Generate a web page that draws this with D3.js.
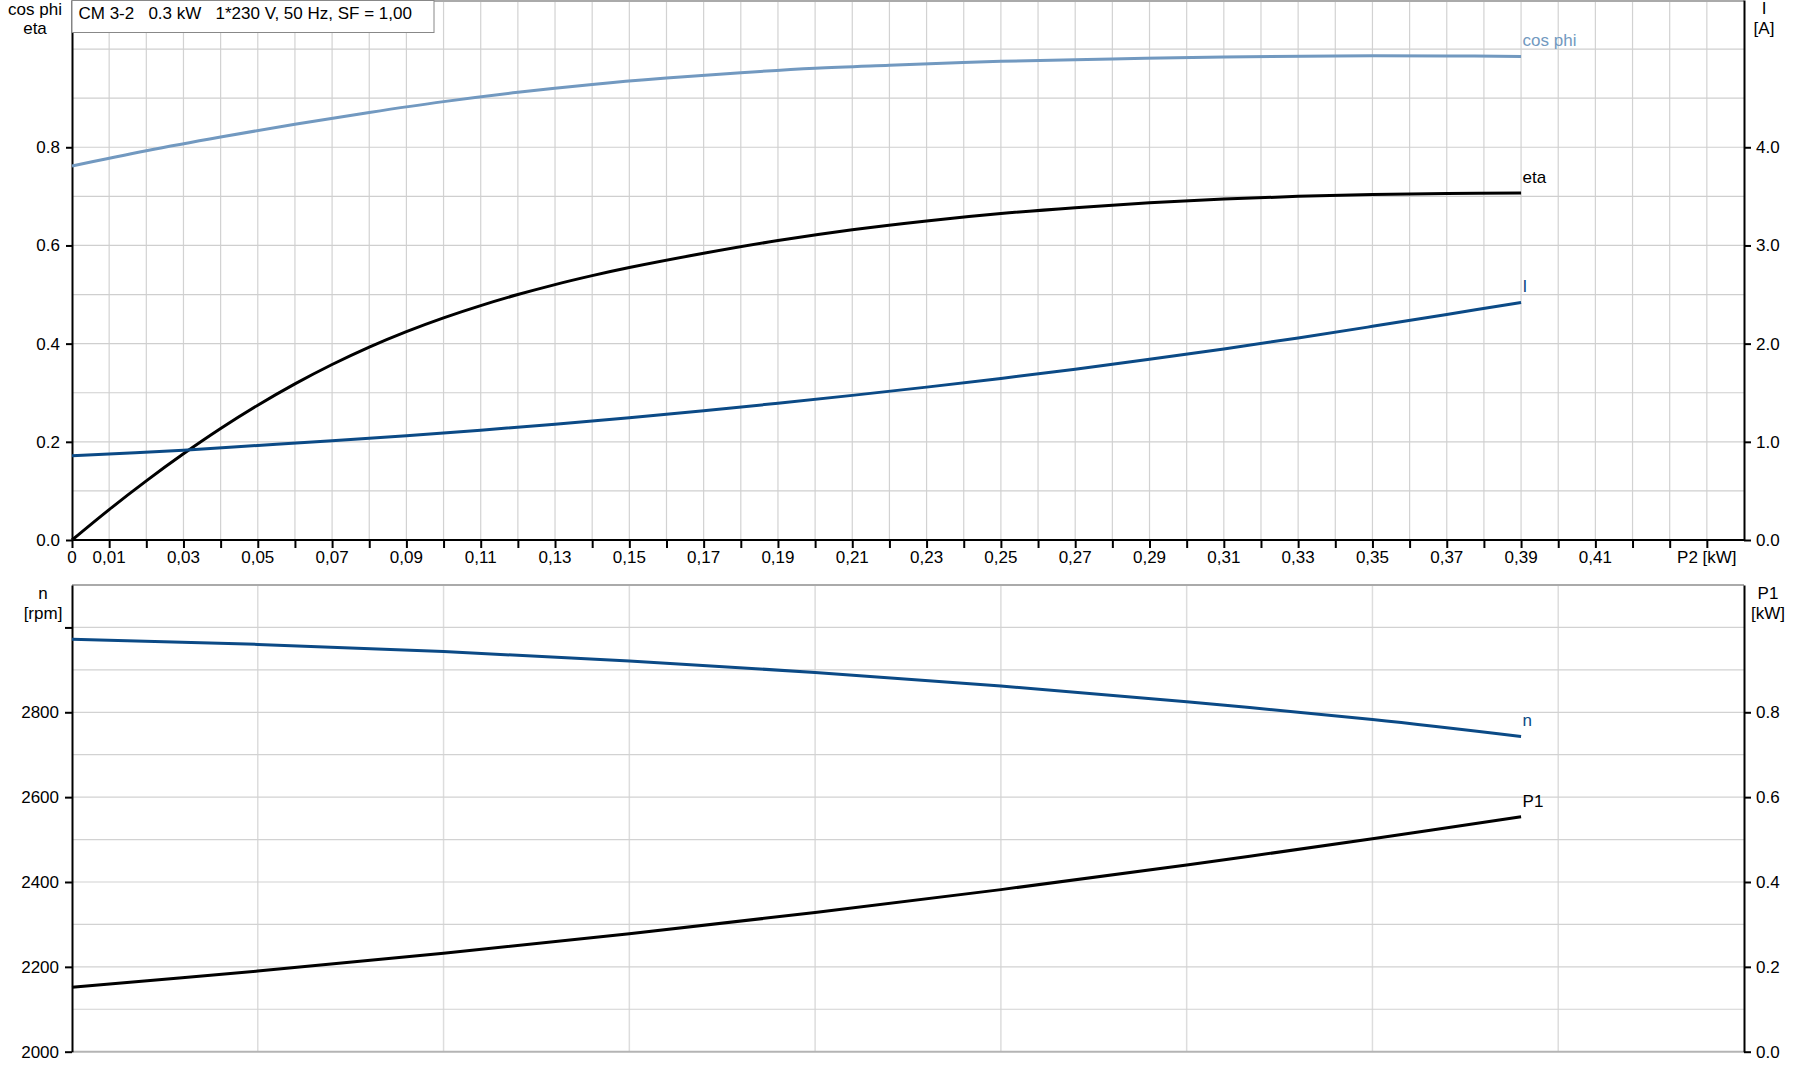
<!DOCTYPE html>
<html>
<head>
<meta charset="utf-8">
<script src="https://cdn.jsdelivr.net/npm/d3@7"></script>
<style>
  html, body { margin: 0; padding: 0; background: #fff; }
  svg { display: block; font-family: "Liberation Sans", Arial, sans-serif; }
</style>
</head>
<body>
<svg id="chart" width="1795" height="1081"></svg>
<script>
// ---------- DATA ----------
const titleText = "CM 3-2   0.3 kW   1*230 V, 50 Hz, SF = 1,00";

// P2 [kW] positions of the sampled points
const cosPhiP2 = [0, 0.02, 0.04, 0.06, 0.08, 0.10, 0.12, 0.14, 0.16, 0.18, 0.20, 0.22, 0.25, 0.28, 0.31, 0.34, 0.37, 0.39];
const cosPhiVals = [0.762, 0.793, 0.821, 0.847, 0.871, 0.893, 0.912, 0.928, 0.941, 0.952, 0.961, 0.967, 0.975, 0.980, 0.984, 0.986, 0.986, 0.985];

const etaP2 = [0, 0.01, 0.02, 0.03, 0.04, 0.05, 0.06, 0.07, 0.08, 0.09, 0.10, 0.11, 0.12, 0.13, 0.14, 0.15, 0.17, 0.19, 0.21, 0.23, 0.25, 0.27, 0.29, 0.31, 0.33, 0.35, 0.37, 0.39];
const etaVals = [0, 0.062, 0.1205, 0.1755, 0.227, 0.2745, 0.318, 0.3575, 0.393, 0.4245, 0.4525, 0.4775, 0.500, 0.5203, 0.5385, 0.555, 0.584, 0.610, 0.632, 0.650, 0.665, 0.677, 0.687, 0.6945, 0.700, 0.704, 0.706, 0.707];

const currentP2 = [0, 0.03, 0.05, 0.07, 0.09, 0.11, 0.13, 0.15, 0.17, 0.19, 0.21, 0.23, 0.25, 0.27, 0.29, 0.31, 0.33, 0.35, 0.37, 0.39];
const currentVals = [0.857, 0.915, 0.963, 1.011, 1.063, 1.119, 1.180, 1.246, 1.317, 1.393, 1.473, 1.557, 1.646, 1.740, 1.840, 1.946, 2.058, 2.176, 2.297, 2.420];

const speedP2 = [0, 0.05, 0.10, 0.15, 0.20, 0.25, 0.30, 0.35, 0.39];
const speedVals = [2972, 2960, 2943, 2921, 2894, 2862, 2825, 2783, 2743];

const p1P2 = [0, 0.05, 0.10, 0.15, 0.20, 0.25, 0.30, 0.35, 0.39];
const p1Vals = [0.152, 0.190, 0.232, 0.278, 0.328, 0.382, 0.440, 0.502, 0.554];

const xTickLabels = ["0", "0,01", "0,03", "0,05", "0,07", "0,09", "0,11", "0,13", "0,15", "0,17", "0,19", "0,21", "0,23", "0,25", "0,27", "0,29", "0,31", "0,33", "0,35", "0,37", "0,39", "0,41"];
const leftTopTicks = [0, 0.2, 0.4, 0.6, 0.8];
const rightTopTicks = [0, 1, 2, 3, 4];
const leftBottomTicks = [2000, 2200, 2400, 2600, 2800, 3000];
const leftBottomLabels = ["2000", "2200", "2400", "2600", "2800", ""];
const rightBottomTicks = [0, 0.2, 0.4, 0.6, 0.8];

// ---------- LAYOUT ----------
const svg = d3.select("#chart");
const L = 72, R = 1744;
const topY0 = 0, topY1 = 540;
const botY0 = 585, botY1 = 1051.7;
const FONT = 17;

const x = d3.scaleLinear().domain([0, 0.45]).range([L, R]);
const yTop = d3.scaleLinear().domain([0, 1.1]).range([topY1, topY0]);
const yI = d3.scaleLinear().domain([0, 5.5]).range([topY1, topY0]);
const yN = d3.scaleLinear().domain([2000, 3100]).range([botY1, botY0]);
const yP1 = d3.scaleLinear().domain([0, 1.1]).range([botY1, botY0]);

const blue = "#0b4a86";
const lightBlue = "#7299c0";

// ---------- TOP CHART GRID ----------
const gTop = svg.append("g");
gTop.selectAll(".vg").data(d3.range(1, 45).map(i => i / 100)).join("line")
  .attr("x1", d => x(d)).attr("x2", d => x(d))
  .attr("y1", topY0).attr("y2", topY1)
  .attr("stroke", "#d2d2d2").attr("stroke-width", 1.2);
gTop.selectAll(".hg").data(d3.range(1, 11).map(i => i / 10)).join("line")
  .attr("x1", L).attr("x2", R)
  .attr("y1", d => yTop(d)).attr("y2", d => yTop(d))
  .attr("stroke", "#cfcfcf").attr("stroke-width", 1.2);
gTop.append("line").attr("x1", L).attr("x2", R).attr("y1", 1).attr("y2", 1)
  .attr("stroke", "#aaaaaa").attr("stroke-width", 2);

// ---------- BOTTOM CHART GRID ----------
const gBot = svg.append("g");
gBot.selectAll(".vg").data(d3.range(1, 9).map(i => i * 0.05)).join("line")
  .attr("x1", d => x(d)).attr("x2", d => x(d))
  .attr("y1", botY0).attr("y2", botY1)
  .attr("stroke", "#dddddd").attr("stroke-width", 1.5);
gBot.selectAll(".hg").data(d3.range(2100, 3100, 100)).join("line")
  .attr("x1", L).attr("x2", R)
  .attr("y1", d => yN(d)).attr("y2", d => yN(d))
  .attr("stroke", "#d2d2d2").attr("stroke-width", 1.2);
gBot.append("line").attr("x1", L).attr("x2", R).attr("y1", botY0).attr("y2", botY0)
  .attr("stroke", "#aaaaaa").attr("stroke-width", 2);
gBot.append("line").attr("x1", L).attr("x2", R).attr("y1", botY1).attr("y2", botY1)
  .attr("stroke", "#b4b4b4").attr("stroke-width", 2);

// ---------- AXES ----------
function styleAxis(g) {
  g.selectAll("path.domain").attr("stroke", "#000").attr("stroke-width", 2);
  g.selectAll(".tick line").attr("stroke", "#000").attr("stroke-width", 2);
  g.selectAll(".tick text").attr("fill", "#000").style("font-size", FONT + "px")
    .style("font-family", '"Liberation Sans", Arial, sans-serif');
}

const xAxisG = svg.append("g").attr("transform", `translate(0,${topY1})`)
  .call(d3.axisBottom(x).tickValues(d3.range(0, 45).map(i => i / 100)).tickSize(8).tickSizeOuter(0)
    .tickFormat(() => ""));
styleAxis(xAxisG);
xAxisG.select("path.domain").attr("d", `M${L},0H${R}`);
const labelVals = xTickLabels.map((t, i) => i === 0 ? 0 : (2 * i - 1) / 100);
svg.append("g").selectAll("text").data(xTickLabels).join("text")
  .attr("x", (d, i) => x(labelVals[i])).attr("y", 563)
  .attr("text-anchor", "middle").style("font-size", FONT + "px").text(d => d);
svg.append("text").attr("x", x(0.44)).attr("y", 563).attr("text-anchor", "middle")
  .style("font-size", FONT + "px").text("P2 [kW]");

const yTopAxis = svg.append("g").attr("transform", `translate(${L},0)`)
  .call(d3.axisLeft(yTop).tickValues(leftTopTicks).tickSize(6).tickSizeOuter(0).tickPadding(6)
    .tickFormat(d3.format(".1f")));
styleAxis(yTopAxis);
const yIAxis = svg.append("g").attr("transform", `translate(${R},0)`)
  .call(d3.axisRight(yI).tickValues(rightTopTicks).tickSize(7).tickSizeOuter(0).tickPadding(5)
    .tickFormat(d3.format(".1f")));
styleAxis(yIAxis);

const yNAxis = svg.append("g").attr("transform", `translate(${L},0)`)
  .call(d3.axisLeft(yN).tickValues(leftBottomTicks).tickSize(7).tickSizeOuter(0).tickPadding(6)
    .tickFormat((d, i) => leftBottomLabels[i]));
styleAxis(yNAxis);
const yP1Axis = svg.append("g").attr("transform", `translate(${R},0)`)
  .call(d3.axisRight(yP1).tickValues(rightBottomTicks).tickSize(7).tickSizeOuter(0).tickPadding(5)
    .tickFormat(d3.format(".1f")));
styleAxis(yP1Axis);

function twoLine(cx, y1, y2, a, b) {
  svg.append("text").attr("x", cx).attr("y", y1).attr("text-anchor", "middle").style("font-size", FONT + "px").text(a);
  svg.append("text").attr("x", cx).attr("y", y2).attr("text-anchor", "middle").style("font-size", FONT + "px").text(b);
}
twoLine(35, 15, 34, "cos phi", "eta");
twoLine(1764, 14, 34, "I", "[A]");
twoLine(43, 599, 619, "n", "[rpm]");
twoLine(1768, 599, 619, "P1", "[kW]");

// ---------- CURVES ----------
function curve(xs, ys, yScale, color, width) {
  const pts = xs.map((v, i) => [v, ys[i]]);
  svg.append("path").datum(pts)
    .attr("fill", "none").attr("stroke", color).attr("stroke-width", width)
    .attr("stroke-linejoin", "round")
    .attr("d", d3.line().x(d => x(d[0])).y(d => yScale(d[1])).curve(d3.curveCatmullRom.alpha(0.5)));
  return pts[pts.length - 1];
}
const cEnd = curve(cosPhiP2, cosPhiVals, yTop, lightBlue, 3);
const eEnd = curve(etaP2, etaVals, yTop, "#000", 3);
const iEnd = curve(currentP2, currentVals, yI, blue, 3);
const nEnd = curve(speedP2, speedVals, yN, blue, 3);
const pEnd = curve(p1P2, p1Vals, yP1, "#000", 3);

function endLabel(pt, yScale, txt, color, dy) {
  svg.append("text").attr("x", x(pt[0]) + 1.5).attr("y", yScale(pt[1]) + dy)
    .attr("fill", color).style("font-size", FONT + "px").text(txt);
}
endLabel(cEnd, yTop, "cos phi", lightBlue, -10);
endLabel(eEnd, yTop, "eta", "#000", -10);
endLabel(iEnd, yI, "I", blue, -10);
endLabel(nEnd, yN, "n", blue, -10);
endLabel(pEnd, yP1, "P1", "#000", -10);

// ---------- TITLE BOX ----------
svg.append("rect").attr("x", L).attr("y", 0.5).attr("width", 434 - L).attr("height", 32)
  .attr("fill", "#fff").attr("stroke", "#888").attr("stroke-width", 1);
svg.append("text").attr("x", 78.5).attr("y", 19).style("font-size", FONT + "px")
  .style("white-space", "pre").text(titleText);
</script>
</body>
</html>
